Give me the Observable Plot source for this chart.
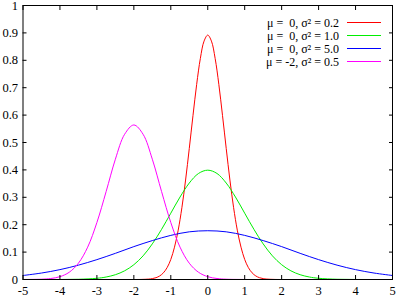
<!DOCTYPE html>
<html>
<head>
<meta charset="utf-8">
<script src="https://cdn.jsdelivr.net/npm/d3@7"></script>
<script src="https://cdn.jsdelivr.net/npm/@observablehq/plot@0.6"></script>
<style>
  html, body { margin: 0; padding: 0; background: #fff; }
  #wrap { position: relative; width: 397px; height: 298px; }
</style>
</head>
<body>
<div id="wrap"></div>
<script>
// Series labels
const seriesNames = ["μ =  0, σ² = 0.2", "μ =  0, σ² = 1.0", "μ =  0, σ² = 5.0", "μ = -2, σ² = 0.5"];

// Series values
const xRed = [-5, -2, -1.8, -1.6, -1.5, -1.4, -1.3, -1.2, -1.1, -1.0, -0.9, -0.8, -0.7, -0.6, -0.5, -0.4, -0.3, -0.2, -0.1, 0,
              0.1, 0.2, 0.3, 0.4, 0.5, 0.6, 0.7, 0.8, 0.9, 1.0, 1.1, 1.2, 1.3, 1.4, 1.5, 1.6, 1.8, 2, 5];
const yRed = [0, 0, 0.0003, 0.0015, 0.0032, 0.0066, 0.0130, 0.0244, 0.0433, 0.0732, 0.118, 0.180, 0.262, 0.363, 0.478, 0.598, 0.712, 0.807, 0.870, 0.892,
              0.870, 0.807, 0.712, 0.598, 0.478, 0.363, 0.262, 0.180, 0.118, 0.0732, 0.0433, 0.0244, 0.0130, 0.0066, 0.0032, 0.0015, 0.0003, 0, 0];

const xGreen = [-5, -4.5, -4, -3.5, -3, -2.75, -2.5, -2.25, -2, -1.75, -1.5, -1.25, -1, -0.75, -0.5, -0.25, 0,
                0.25, 0.5, 0.75, 1, 1.25, 1.5, 1.75, 2, 2.25, 2.5, 2.75, 3, 3.5, 4, 4.5, 5];
const yGreen = [0, 0, 0.0001, 0.0009, 0.0044, 0.0091, 0.0175, 0.0317, 0.054, 0.0863, 0.130, 0.183, 0.242, 0.301, 0.352, 0.387, 0.399,
                0.387, 0.352, 0.301, 0.242, 0.183, 0.130, 0.0863, 0.054, 0.0317, 0.0175, 0.0091, 0.0044, 0.0009, 0.0001, 0, 0];

const xBlue = [-5, -4.5, -4, -3.5, -3, -2.5, -2, -1.5, -1, -0.5, 0, 0.5, 1, 1.5, 2, 2.5, 3, 3.5, 4, 4.5, 5];
const yBlue = [0.0146, 0.0236, 0.0360, 0.0524, 0.0725, 0.0955, 0.120, 0.142, 0.161, 0.174, 0.178,
               0.174, 0.161, 0.142, 0.120, 0.0955, 0.0725, 0.0524, 0.0360, 0.0236, 0.0146];

const xMagenta = [-5, -4.5, -4.25, -4, -3.75, -3.5, -3.25, -3, -2.75, -2.5, -2.25, -2, -1.75, -1.5, -1.25, -1, -0.75, -0.5, -0.25, 0, 0.25, 0.5, 1, 5];
const yMagenta = [0.0001, 0.0011, 0.0036, 0.0103, 0.0264, 0.0595, 0.118, 0.208, 0.321, 0.439, 0.530, 0.564,
                  0.530, 0.439, 0.321, 0.208, 0.118, 0.0595, 0.0264, 0.0103, 0.0036, 0.0011, 0.0001, 0];

// Tick labels
const xTicks = [-5, -4, -3, -2, -1, 0, 1, 2, 3, 4, 5];
const yTicks = [0, 0.1, 0.2, 0.3, 0.4, 0.5, 0.6, 0.7, 0.8, 0.9, 1];

const colors = ["#ff0000", "#00ee00", "#0000ff", "#ff00ff"];
const serif = "'Liberation Serif', 'Times New Roman', serif";

const xsList = [xRed, xGreen, xBlue, xMagenta];
const ysList = [yRed, yGreen, yBlue, yMagenta];
const table = [];
seriesNames.forEach((name, i) => {
  xsList[i].forEach((x, j) => table.push({series: name, x, y: ysList[i][j]}));
});

const fmt = d => String(d);

const chart = Plot.plot({
  width: 397,
  height: 298,
  marginLeft: 22.5,
  marginRight: 5,
  marginTop: 5,
  marginBottom: 19,
  style: {fontFamily: serif, fontSize: "12.5px", color: "#000", background: "#fff"},
  x: {domain: [-5, 5]},
  y: {domain: [0, 1]},
  color: {domain: seriesNames, range: colors},
  marks: [
    Plot.line(table, {x: "x", y: "y", z: "series", stroke: "series", strokeWidth: 1, curve: "catmull-rom", clip: true}),
    Plot.frame({stroke: "#000", strokeWidth: 1}),
    Plot.axisX({anchor: "bottom", ticks: xTicks, tickSize: 0, tickPadding: 7, tickFormat: fmt, label: null, fontSize: 12.5}),
    Plot.axisX({anchor: "bottom", ticks: xTicks, tickSize: -4, tickFormat: () => "", label: null}),
    Plot.axisX({anchor: "top", ticks: xTicks, tickSize: -4, tickFormat: () => "", label: null}),
    Plot.axisY({anchor: "left", ticks: yTicks, tickSize: 0, tickPadding: 5, tickFormat: fmt, label: null, fontSize: 12.5}),
    Plot.axisY({anchor: "left", ticks: yTicks, tickSize: -4, tickFormat: () => "", label: null}),
    Plot.axisY({anchor: "right", ticks: yTicks, tickSize: -4, tickFormat: () => "", label: null})
  ]
});

document.getElementById("wrap").appendChild(chart);

// Legend (key) drawn into the chart's SVG, top-right inside the frame
const key = d3.select(chart).append("g")
  .attr("font-family", serif)
  .attr("font-size", 12)
  .attr("fill", "#000");
seriesNames.forEach((name, i) => {
  const ly = 22.5 + i * 13;
  key.append("text")
    .attr("x", 339)
    .attr("y", ly + 4)
    .attr("text-anchor", "end")
    .attr("xml:space", "preserve")
    .style("white-space", "pre")
    .text(name);
  key.append("line")
    .attr("x1", 347).attr("x2", 381)
    .attr("y1", ly).attr("y2", ly)
    .attr("stroke", colors[i])
    .attr("stroke-width", 1);
});
</script>
</body>
</html>
